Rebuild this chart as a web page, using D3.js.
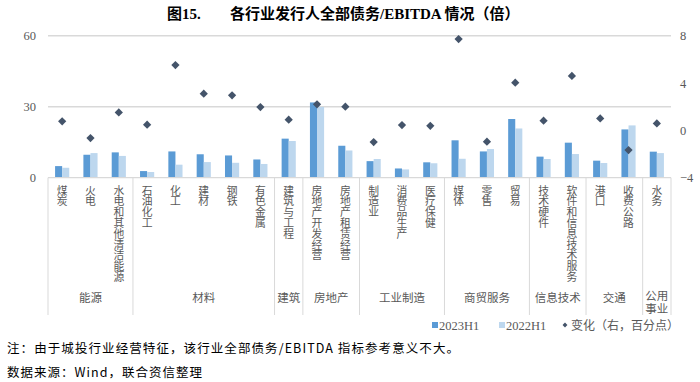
<!DOCTYPE html>
<html><head><meta charset="utf-8">
<script src="https://cdn.jsdelivr.net/npm/d3@7"></script>
<style>
body{margin:0;background:#fff;}
svg{display:block;}
</style></head>
<body><svg id="c" width="700" height="382"></svg>
<script>
const categories = ["煤炭","火电","水电和其他清洁能源","石油化工","化工","建材","钢铁","有色金属","建筑与工程","房地产开发经营","房地产租赁经营","制造业","消费品生产","医疗保健","媒体","零售","贸易","技术硬件","软件和信息技术服务","港口","收费公路","水务"];
const groups = ["能源","材料","建筑","房地产","工业制造","商贸服务","信息技术","交通","公用事业"];
const groupSizes = [3,5,1,2,3,3,2,2,1];
const v2023 = [4.9,9.7,10.7,2.8,11.1,9.9,9.4,7.7,16.5,31.8,13.5,7.0,3.9,6.5,15.8,11.1,24.8,8.9,14.8,7.2,20.4,11.0];
const v2022 = [4.2,10.4,9.2,2.4,5.5,6.6,6.3,5.8,15.5,29.9,11.5,7.9,3.5,6.1,8.0,12.1,20.8,7.9,10.0,6.2,22.1,10.4];
const change = [0.76,-0.65,1.52,0.48,5.52,3.1,2.96,1.97,0.9,2.2,2.0,-0.99,0.45,0.39,7.72,-0.96,4.03,0.82,4.6,1.01,-1.66,0.59];
const leftTicks = [0,30,60];
const rightTicks = [-4,0,4,8];
const seriesNames = ["2023H1","2022H1","变化（右，百分点）"];

const C1 = "#5b9bd5", C2 = "#bdd7ee", C3 = "#44546a";
const svg = d3.select("#c");
const L = 48, R = 671, T = 35.7, B = 177.7;
const x = d3.scaleBand().domain(categories).range([L, R]).padding(0);
const bw = x.bandwidth();
const x1 = d3.scaleBand().domain(["a","b"]).range([bw*0.25, bw*0.75]).padding(0);
const yL = d3.scaleLinear().domain([0,60]).range([B, T]);
const yR = d3.scaleLinear().domain([-4,8]).range([B, T]);

// title
svg.append("text").attr("x",167).attr("y",19).attr("font-family","Liberation Serif, Noto Sans CJK SC").attr("font-weight","bold").attr("font-size",15).attr("fill","#000").text("图15.");
svg.append("text").attr("x",230).attr("y",19).attr("font-family","Liberation Serif, Noto Sans CJK SC").attr("font-weight","bold").attr("font-size",15).attr("fill","#000").text("各行业发行人全部债务/EBITDA 情况（倍）");

// gridlines
svg.append("g").selectAll("line").data(leftTicks.filter(d=>d>0)).join("line")
  .attr("x1",L).attr("x2",R).attr("y1",d=>yL(d)).attr("y2",d=>yL(d))
  .attr("stroke","#d9d9d9").attr("stroke-width",1.5);

// left axis
const gl = svg.append("g").attr("transform",`translate(${L},0)`)
  .call(d3.axisLeft(yL).tickValues(leftTicks).tickSize(0).tickPadding(12));
gl.select(".domain").remove();
gl.selectAll("text").attr("font-family","Liberation Serif").attr("font-size",12.5).attr("fill","#595959");

// right axis
const gr = svg.append("g").attr("transform",`translate(${R},0)`)
  .call(d3.axisRight(yR).tickValues(rightTicks).tickSize(0).tickPadding(9));
gr.select(".domain").remove();
gr.selectAll("text").attr("font-family","Liberation Serif").attr("font-size",12.5).attr("fill","#595959");

// bars
const bars = svg.append("g");
bars.selectAll("rect.a").data(categories).join("rect").attr("class","a")
  .attr("x",d=>x(d)+x1("a")).attr("width",x1.bandwidth())
  .attr("y",(d,i)=>yL(v2023[i])).attr("height",(d,i)=>yL(0)-yL(v2023[i])).attr("fill",C1);
bars.selectAll("rect.b").data(categories).join("rect").attr("class","b")
  .attr("x",d=>x(d)+x1("b")).attr("width",x1.bandwidth())
  .attr("y",(d,i)=>yL(v2022[i])).attr("height",(d,i)=>yL(0)-yL(v2022[i])).attr("fill",C2);

// zero axis line
svg.append("line").attr("x1",L).attr("x2",R).attr("y1",B).attr("y2",B).attr("stroke","#d9d9d9").attr("stroke-width",1.2);

// group dividers
let bounds = [0]; groupSizes.forEach(s=>bounds.push(bounds[bounds.length-1]+s));
const bx = i => L + i*bw;
svg.append("g").selectAll("line").data(bounds).join("line")
  .attr("x1",d=>bx(d)).attr("x2",d=>bx(d)).attr("y1",B).attr("y2",315)
  .attr("stroke","#d9d9d9").attr("stroke-width",1);

// diamonds
const dsym = d3.symbol().type(d3.symbolSquare).size(34);
svg.append("g").selectAll("path").data(categories).join("path")
  .attr("d",dsym)
  .attr("transform",(d,i)=>`translate(${x(d)+bw/2},${yR(change[i])}) rotate(45)`)
  .attr("fill",C3);

// category labels (vertical writing)
const cl = svg.append("g").attr("font-family","Noto Sans CJK SC").attr("font-size",10.8).attr("fill","#595959");
categories.forEach((c,i)=>{
  cl.append("text").attr("x",x(c)+bw/2).attr("y",185)
    .attr("writing-mode","vertical-rl").style("writing-mode","vertical-rl")
    .attr("text-anchor","start").text(c);
});

// group labels
const glab = svg.append("g").attr("font-family","Noto Sans CJK SC").attr("font-size",11.5).attr("fill","#595959").attr("text-anchor","middle");
groups.forEach((g,k)=>{
  const cx = (bx(bounds[k])+bx(bounds[k+1]))/2;
  if (g==="公用事业"){
    const w = bx(bounds[k+1]) - bx(bounds[k]);
    svg.append("foreignObject").attr("x",cx - w/2).attr("y",289).attr("width",w).attr("height",30)
      .append("xhtml:div")
      .style("width", w+"px").style("text-align","center")
      .style("font-family","Noto Sans CJK SC").style("font-size","11.5px").style("line-height","13px")
      .style("color","#595959").style("word-break","break-all").style("padding","0 2px").style("box-sizing","border-box")
      .text(g);
  } else {
    glab.append("text").attr("x",cx).attr("y",302).text(g);
  }
});

// legend
const lg = svg.append("g").attr("font-family","Liberation Serif, Noto Sans CJK SC").attr("font-size",12.5).attr("fill","#595959");
lg.append("rect").attr("x",432).attr("y",322).attr("width",6).attr("height",6).attr("fill",C1);
lg.append("text").attr("x",439).attr("y",330).text(seriesNames[0]);
lg.append("rect").attr("x",499).attr("y",322).attr("width",6).attr("height",6).attr("fill",C2);
lg.append("text").attr("x",506).attr("y",330).text(seriesNames[1]);
lg.append("path").attr("d",d3.symbol().type(d3.symbolSquare).size(12)).attr("transform","translate(565,325) rotate(45)").attr("fill",C3);
lg.append("text").attr("x",571).attr("y",330).attr("font-family","Noto Sans CJK SC").attr("font-size",12).text(seriesNames[2]);

// footnotes
svg.append("text").attr("x",7).attr("y",353).attr("font-family","Noto Sans CJK SC").attr("font-size",12.5).attr("fill","#000")
  .attr("textLength",452).attr("lengthAdjust","spacing")
  .text("注：由于城投行业经营特征，该行业全部债务/EBITDA 指标参考意义不大。");
svg.append("text").attr("x",7).attr("y",377).attr("font-family","Noto Sans CJK SC").attr("font-size",12.5).attr("fill","#000")
  .attr("textLength",195).attr("lengthAdjust","spacing")
  .text("数据来源：Wind，联合资信整理");
</script></body></html>
